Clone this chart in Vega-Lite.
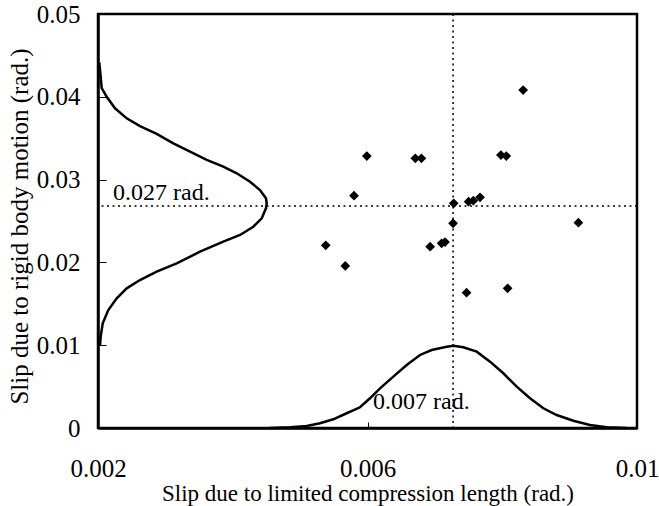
{
  "$schema": "https://vega.github.io/schema/vega-lite/v6.json",
  "width": 539,
  "height": 414,
  "autosize": {"type": "none"},
  "padding": {"left": 98, "top": 14, "right": 22, "bottom": 78},
  "background": "white",
  "config": {
    "view": {"stroke": "black", "strokeWidth": 2.5},
    "axis": {
      "domainColor": "black", "domainWidth": 2.5, "tickColor": "black", "tickWidth": 1,
      "grid": false, "labelFont": "Liberation Serif", "titleFont": "Liberation Serif",
      "labelColor": "black", "titleColor": "black", "titleFontWeight": "normal",
      "labelFontSize": 25, "titleFontSize": 23, "labelFlush": false
    }
  },
  "datasets": {
    "points": [
      {"x": 0.00599, "y": 0.03285}, {"x": 0.00671, "y": 0.03257}, {"x": 0.00680, "y": 0.03257},
      {"x": 0.00831, "y": 0.04082}, {"x": 0.00798, "y": 0.03297}, {"x": 0.00806, "y": 0.03285},
      {"x": 0.00580, "y": 0.02806}, {"x": 0.00728, "y": 0.02713}, {"x": 0.00727, "y": 0.02472},
      {"x": 0.00538, "y": 0.02206}, {"x": 0.00567, "y": 0.01957}, {"x": 0.00693, "y": 0.0219},
      {"x": 0.00710, "y": 0.0223}, {"x": 0.00715, "y": 0.02246}, {"x": 0.00750, "y": 0.02733},
      {"x": 0.00757, "y": 0.02745}, {"x": 0.00767, "y": 0.02786}, {"x": 0.00913, "y": 0.0248},
      {"x": 0.00747, "y": 0.01634}, {"x": 0.00808, "y": 0.01687}
    ],
    "vcurve": [
      {"i": 1, "x": 0.00202, "y": 0.04412}, {"i": 2, "x": 0.002055, "y": 0.04106},
      {"i": 3, "x": 0.002129, "y": 0.04001}, {"i": 4, "x": 0.002252, "y": 0.03861},
      {"i": 5, "x": 0.002426, "y": 0.0374}, {"i": 6, "x": 0.002623, "y": 0.03647},
      {"i": 7, "x": 0.002871, "y": 0.03551}, {"i": 8, "x": 0.003118, "y": 0.03438},
      {"i": 9, "x": 0.003366, "y": 0.03337}, {"i": 10, "x": 0.003613, "y": 0.03237},
      {"i": 11, "x": 0.00386, "y": 0.03156}, {"i": 12, "x": 0.004059, "y": 0.03076},
      {"i": 13, "x": 0.004256, "y": 0.02975}, {"i": 14, "x": 0.004404, "y": 0.02874},
      {"i": 15, "x": 0.004493, "y": 0.02774}, {"i": 16, "x": 0.004504, "y": 0.02714},
      {"i": 17, "x": 0.004493, "y": 0.02653}, {"i": 18, "x": 0.00443, "y": 0.02533},
      {"i": 19, "x": 0.004305, "y": 0.02431}, {"i": 20, "x": 0.004108, "y": 0.02331},
      {"i": 21, "x": 0.00386, "y": 0.0225}, {"i": 22, "x": 0.003514, "y": 0.02129},
      {"i": 23, "x": 0.003168, "y": 0.01989}, {"i": 24, "x": 0.002871, "y": 0.01888},
      {"i": 25, "x": 0.002623, "y": 0.01787}, {"i": 26, "x": 0.002426, "y": 0.01687},
      {"i": 27, "x": 0.002278, "y": 0.01566}, {"i": 28, "x": 0.002153, "y": 0.01425},
      {"i": 29, "x": 0.00207, "y": 0.01264}, {"i": 30, "x": 0.00204, "y": 0.01103},
      {"i": 31, "x": 0.00203, "y": 0.01002}
    ],
    "hcurve": [
      {"i": 1, "x": 0.004553, "y": 0.0}, {"i": 2, "x": 0.00485, "y": 0.00008},
      {"i": 3, "x": 0.005098, "y": 0.00024}, {"i": 4, "x": 0.005295, "y": 0.00057},
      {"i": 5, "x": 0.005492, "y": 0.00105}, {"i": 6, "x": 0.005691, "y": 0.00178},
      {"i": 7, "x": 0.005889, "y": 0.0025}, {"i": 8, "x": 0.006037, "y": 0.00359},
      {"i": 9, "x": 0.006186, "y": 0.00479}, {"i": 10, "x": 0.006383, "y": 0.0062},
      {"i": 11, "x": 0.006582, "y": 0.00761}, {"i": 12, "x": 0.006779, "y": 0.00882},
      {"i": 13, "x": 0.006953, "y": 0.00942}, {"i": 14, "x": 0.007176, "y": 0.00982},
      {"i": 15, "x": 0.007274, "y": 0.00994}, {"i": 16, "x": 0.007422, "y": 0.00975},
      {"i": 17, "x": 0.007621, "y": 0.00922}, {"i": 18, "x": 0.007819, "y": 0.00801},
      {"i": 19, "x": 0.008016, "y": 0.00661}, {"i": 20, "x": 0.008215, "y": 0.00499},
      {"i": 21, "x": 0.008412, "y": 0.00359}, {"i": 22, "x": 0.00861, "y": 0.00238},
      {"i": 23, "x": 0.008808, "y": 0.00157}, {"i": 24, "x": 0.009055, "y": 0.00088},
      {"i": 25, "x": 0.009302, "y": 0.00036}, {"i": 26, "x": 0.00955, "y": 0.00008},
      {"i": 27, "x": 0.009847, "y": 0.0}
    ]
  },
  "layer": [
    {
      "data": {"name": "points"},
      "mark": {"type": "point", "shape": "diamond", "filled": true, "color": "black", "size": 95, "opacity": 1},
      "encoding": {
        "x": {
          "field": "x", "type": "quantitative",
          "scale": {"domain": [0.002, 0.01], "nice": false, "zero": false},
          "title": "Slip due to limited compression length (rad.)",
          "axis": {"values": [0.002, 0.006, 0.01], "format": ".3~f", "tickSize": -6, "labelPadding": 34, "titlePadding": 1}
        },
        "y": {
          "field": "y", "type": "quantitative",
          "scale": {"domain": [0, 0.05], "nice": false, "zero": false},
          "title": "Slip due to rigid body motion (rad.)",
          "axis": {"values": [0, 0.01, 0.02, 0.03, 0.04, 0.05], "format": ".2~f", "tickSize": -8, "labelPadding": 26, "titlePadding": 4, "titleFontSize": 25, "titleY": 212}
        }
      }
    },
    {
      "data": {"name": "vcurve"},
      "mark": {"type": "line", "color": "black", "strokeWidth": 2.5},
      "encoding": {
        "x": {"field": "x", "type": "quantitative", "title": "Slip due to limited compression length (rad.)"},
        "y": {"field": "y", "type": "quantitative", "title": "Slip due to rigid body motion (rad.)"},
        "order": {"field": "i", "type": "quantitative"}
      }
    },
    {
      "data": {"name": "hcurve"},
      "mark": {"type": "line", "color": "black", "strokeWidth": 2.5},
      "encoding": {
        "x": {"field": "x", "type": "quantitative", "title": "Slip due to limited compression length (rad.)"},
        "y": {"field": "y", "type": "quantitative", "title": "Slip due to rigid body motion (rad.)"},
        "order": {"field": "i", "type": "quantitative"}
      }
    },
    {
      "data": {"values": [{"x": 0.00727}]},
      "mark": {"type": "rule", "color": "black", "strokeWidth": 1.5, "strokeDash": [2, 3.5]},
      "encoding": {"x": {"field": "x", "type": "quantitative", "title": "Slip due to limited compression length (rad.)"}}
    },
    {
      "data": {"values": [{"y": 0.0268}]},
      "mark": {"type": "rule", "color": "black", "strokeWidth": 1.5, "strokeDash": [2, 3.5]},
      "encoding": {"y": {"field": "y", "type": "quantitative", "title": "Slip due to rigid body motion (rad.)"}}
    },
    {
      "data": {"values": [
        {"x": 0.002223, "y": 0.02754, "label": "0.027 rad."},
        {"x": 0.006082, "y": 0.0023, "label": "0.007 rad."}
      ]},
      "mark": {"type": "text", "align": "left", "baseline": "alphabetic", "font": "Liberation Serif", "fontSize": 24, "color": "black"},
      "encoding": {
        "x": {"field": "x", "type": "quantitative", "title": "Slip due to limited compression length (rad.)"},
        "y": {"field": "y", "type": "quantitative", "title": "Slip due to rigid body motion (rad.)"},
        "text": {"field": "label"}
      }
    }
  ]
}
